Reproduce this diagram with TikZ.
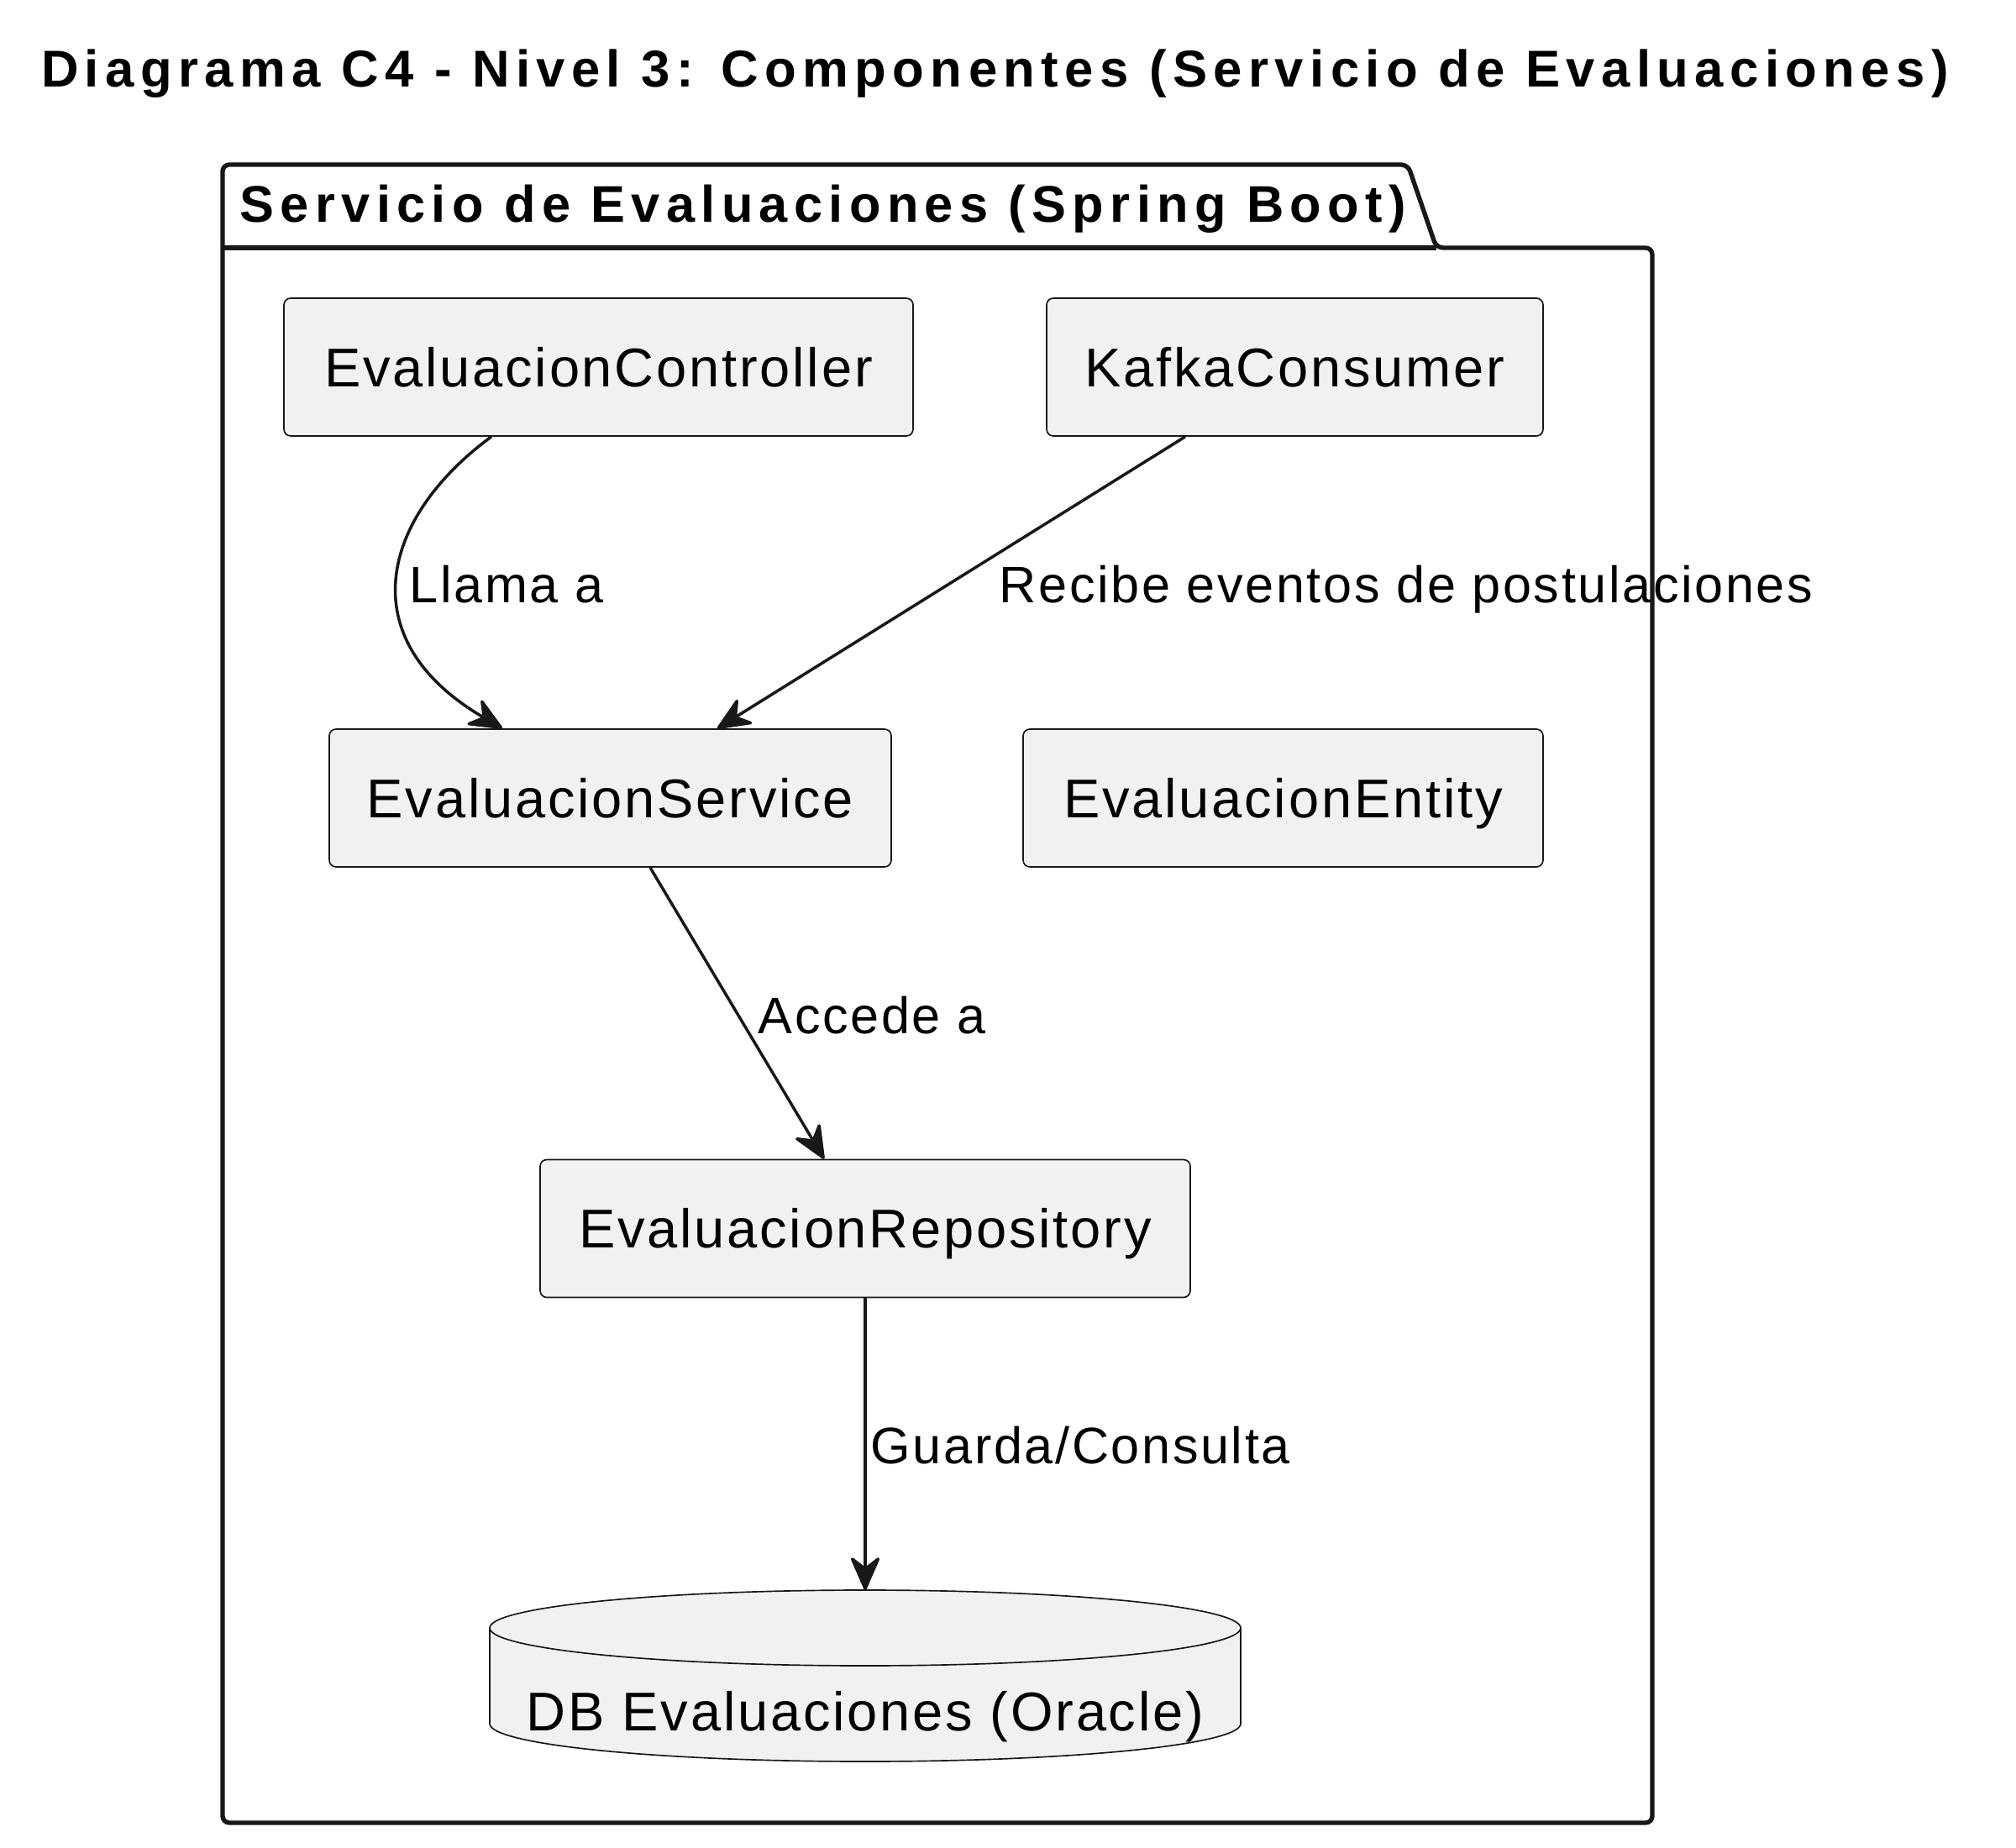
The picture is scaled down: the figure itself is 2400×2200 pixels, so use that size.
\documentclass[tikz,border=0pt]{standalone}
\usepackage{fontspec}
\setmainfont{Liberation Sans}
\newfontfamily\titlefont[LetterSpace=12]{Liberation Sans}
\newfontfamily\boxfont[LetterSpace=4.3]{Liberation Sans}
\usetikzlibrary{arrows.meta,calc}
\definecolor{boxfill}{HTML}{F1F1F1}
\definecolor{ink}{HTML}{181818}
\tikzset{
  comp/.style={draw=ink, fill=boxfill, line width=0.5pt, rounded corners=2.4pt,
    minimum height=164*0.3pt, inner sep=0pt, text depth=0pt, text height=13.9pt,
    font=\boxfont\fontsize{19.5pt}{23pt}\selectfont},
  lbl/.style={inner sep=0pt, anchor=base west, font=\boxfont\fontsize{18.35pt}{21pt}\selectfont},
  conn/.style={draw=ink, line width=1.05pt, -{Stealth[length=13.5pt,width=11.7pt,inset=4.5pt,round]}},
}
\begin{document}
\begin{tikzpicture}[x=0.3pt,y=-0.3pt]
\useasboundingbox (0,0) rectangle (2400,2200);
% title
\node[inner sep=0pt, anchor=base] (title) at (1184.5,104)
  {\titlefont\bfseries\fontsize{18.5pt}{21pt}\selectfont Diagrama C4 - Nivel 3: Componentes (Servicio de Evaluaciones)};
% package
\draw[ink, line width=1.6pt, rounded corners=2.4pt, fill=white]
  (265,2170) -- (265,196) -- (1676,196) -- (1710,295) -- (1967,295) -- (1967,2170) -- cycle;
\draw[ink, line width=1.6pt] (265,295) -- (1710,295);
\node[inner sep=0pt, anchor=base west] (pkg) at (285,265)
  {\titlefont\bfseries\fontsize{18.4pt}{21pt}\selectfont Servicio de Evaluaciones (Spring Boot)};
% components
\node[comp, minimum width=749*0.3pt] (ctrl) at (712.5,437) {EvaluacionController};
\node[comp, minimum width=591*0.3pt] (kafka) at (1541.5,437) {KafkaConsumer};
\node[comp, minimum width=669*0.3pt] (svc) at (726.5,950) {EvaluacionService};
\node[comp, minimum width=619*0.3pt] (ent) at (1527.5,950) {EvaluacionEntity};
\node[comp, minimum width=774*0.3pt] (repo) at (1030,1462.5) {EvaluacionRepository};
% database cylinder
\coordinate (dbtop) at (1030,1893);
\coordinate (dbc) at (1030,1938);
\filldraw[draw=ink, fill=boxfill, line width=0.5pt]
  ($(dbc)+(-447,0)$) -- ($(dbc)+(-447,114)$) arc[start angle=180, end angle=360, x radius=134.1pt, y radius=13.5pt]
  -- ($(dbc)+(447,0)$) arc[start angle=0, end angle=180, x radius=134.1pt, y radius=13.5pt] -- cycle;
\draw[ink, line width=0.5pt] ($(dbc)+(-447,0)$) arc[start angle=180, end angle=360, x radius=134.1pt, y radius=13.5pt];
\node[inner sep=0pt, anchor=base, font=\boxfont\fontsize{19.5pt}{23pt}\selectfont] (db) at (1030,2060) {DB Evaluaciones (Oracle)};
% connectors
\draw[conn] ($(ctrl.south)+(-127.5,0)$) .. controls (455,615) and (415,760) .. ($(svc.north)+(-128.5,0)$);
\draw[conn] ($(kafka.south)+(-130.5,0)$) -- ($(svc.north)+(127.5,0)$);
\draw[conn] ($(svc.south)+(47.5,0)$) -- ($(repo.north)+(-49,0)$);
\draw[conn] (repo.south) -- (dbtop);
% labels
\node[lbl] (l1) at (487,717) {Llama a};
\node[lbl] (l2) at (1189,717) {Recibe eventos de postulaciones};
\node[lbl] (l3) at (902,1230) {Accede a};
\node[lbl] (l4) at (1036,1742) {Guarda/Consulta};
\end{tikzpicture}
\end{document}
